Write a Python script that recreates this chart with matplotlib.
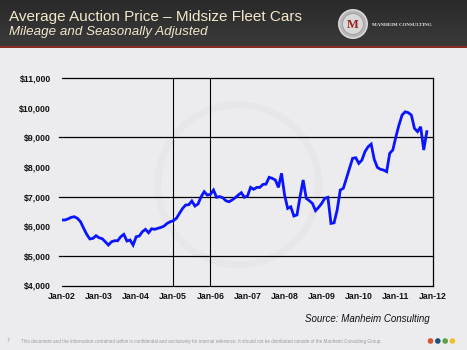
import numpy as np
import matplotlib
matplotlib.use("Agg")
import matplotlib.pyplot as plt
import matplotlib.patches as mpatches

# ── Data (monthly, Jan-02 onward) ─────────────────────────────────────────────

price = [
    6210, 6210, 6250, 6300, 6320, 6265, 6150, 5930, 5725, 5570, 5590, 5680,   # 2002
    5610, 5580, 5475, 5365, 5475, 5510, 5510, 5645, 5725, 5500, 5535, 5365,   # 2003
    5645, 5670, 5815, 5895, 5780, 5915, 5895, 5930, 5960, 6005, 6095, 6150,   # 2004
    6185, 6265, 6435, 6600, 6715, 6725, 6850, 6680, 6750, 6995, 7165, 7050,   # 2005
    7075, 7220, 6975, 7000, 6960, 6860, 6825, 6885, 6960, 7050, 7130, 6975,   # 2006
    7020, 7310, 7245, 7310, 7310, 7410, 7420, 7650, 7615, 7560, 7310, 7785,   # 2007
    7050, 6600, 6655, 6345, 6380, 6995, 7560, 6940, 6860, 6770, 6525, 6635,   # 2008
    6770, 6940, 6975, 6095, 6115, 6545, 7220, 7280, 7615, 7955, 8290, 8310,   # 2009
    8120, 8230, 8515, 8680, 8770, 8255, 7985, 7920, 7895, 7840, 8460, 8570,   # 2010
    9020, 9415, 9750, 9860, 9830, 9750, 9300, 9190, 9355, 8570, 9190,         # 2011
]
month = np.arange(len(price))

tick_months = list(range(0, 121, 12))
tick_labels = ["Jan-02", "Jan-03", "Jan-04", "Jan-05", "Jan-06", "Jan-07",
               "Jan-08", "Jan-09", "Jan-10", "Jan-11", "Jan-12"]
y_ticks = list(range(4000, 11001, 1000))
y_labels = [f"${v:,}" for v in y_ticks]
grid_levels = [5000, 7000, 9000]
marker_months = [36, 48]   # Jan-05, Jan-06

W, H = 467, 350
fig = plt.figure(figsize=(W / 100, H / 100), dpi=100)
fig.patch.set_facecolor("#ececef")

def fx(px):
    return px / W

def fy(py):
    return 1 - py / H

# ── Header band ───────────────────────────────────────────────────────────────
grad = np.linspace(0, 1, 50).reshape(-1, 1)
bg = fig.add_axes([0, fy(46), 1, 46 / H])
bg.imshow(grad, aspect="auto", cmap=matplotlib.colors.LinearSegmentedColormap.from_list(
    "hdr", ["#2a2a2a", "#3a3a3a"]), extent=[0, 1, 0, 1])
bg.axis("off")
fig.add_artist(mpatches.Rectangle((0, fy(47.5)), 1, 1.5 / H, transform=fig.transFigure,
                                  facecolor="#8a2a22", edgecolor="none"))

fig.text(fx(9), fy(17), "Average Auction Price \u2013 Midsize Fleet Cars",
         fontsize=11, color="#f3e7cc", family="Liberation Sans", va="center")
fig.text(fx(9), fy(32), "Mileage and Seasonally Adjusted",
         fontsize=9.6, color="#f3e7cc", family="Liberation Sans", style="italic", va="center")

# logo
lg = fig.add_axes([fx(338), fy(39), 30 / W, 30 / H])
lg.set_xlim(-1, 1)
lg.set_ylim(-1, 1)
lg.set_aspect("equal")
lg.axis("off")
lg.add_patch(mpatches.Circle((0, 0), 0.95, facecolor="#b8b8b8", edgecolor="#e0e0e0", lw=1))
lg.add_patch(mpatches.Circle((0, 0), 0.7, facecolor="#d8d8d8", edgecolor="#9a9a9a", lw=0.6))
lg.text(0, -0.05, "M", ha="center", va="center", fontsize=9, fontweight="bold",
        color="#9a1f1a", family="Liberation Serif")
fig.text(fx(372), fy(24.5), "MANHEIM CONSULTING", fontsize=3.6, color="#e8e8e8",
         family="Liberation Serif", va="center", fontweight="bold")

# ── Chart ─────────────────────────────────────────────────────────────────────
ax = fig.add_axes([fx(62), fy(285.5), (433 - 62) / W, (285.5 - 78) / H])
ax.patch.set_alpha(0)

# faint watermark
ax.add_patch(mpatches.Ellipse((57, 7400), 52, 5400, facecolor="none",
                              edgecolor="#e7e7ea", lw=5, zorder=0))

for lvl in grid_levels:
    ax.axhline(lvl, xmin=-0.008, color="black", lw=0.9, zorder=1, clip_on=False)
for m in marker_months:
    ax.axvline(m, color="black", lw=0.8, zorder=1)

ax.plot(month, price, color="#0a14ff", lw=2.0, solid_joinstyle="miter", zorder=3)

ax.set_xlim(0, 120)
ax.set_ylim(4000, 11000)
ax.set_xticks(tick_months)
ax.set_xticklabels(tick_labels)
ax.set_yticks(y_ticks)
ax.set_yticklabels(y_labels)
ax.tick_params(axis="both", length=0, labelsize=6.3, colors="#111")
ax.tick_params(axis="x", pad=5)
ax.tick_params(axis="y", pad=8)
for lab in ax.get_xticklabels() + ax.get_yticklabels():
    lab.set_fontweight("bold")
    lab.set_family("Liberation Sans")
ax.spines["left"].set_visible(False)
for s in ["top", "right", "bottom"]:
    ax.spines[s].set_linewidth(0.9)
    ax.spines[s].set_color("black")

# ── Footer ────────────────────────────────────────────────────────────────────
fig.text(fx(430), fy(319), "Source: Manheim Consulting", ha="right", va="center",
         fontsize=7, style="italic", family="Liberation Sans", color="#111")
fig.text(fx(7), fy(341), "7", fontsize=3.5, color="#999", va="center")
fig.text(fx(21), fy(341),
         "This document and the information contained within is confidential and exclusively for "
         "internal reference. It should not be distributed outside of the Manheim Consulting Group.",
         fontsize=3.3, color="#9a9a9a", va="center", family="Liberation Sans")
for xp, c in zip([430.5, 437.8, 445.2, 452.4], ["#d9542b", "#1d4f7c", "#5f9e45", "#efbf2c"]):
    fig.add_artist(mpatches.Ellipse((fx(xp), fy(341)), 5.6 / W, 5.6 / H,
                                    transform=fig.transFigure, facecolor=c, edgecolor="none"))

fig.savefig("out.png", dpi=100, facecolor=fig.get_facecolor())
